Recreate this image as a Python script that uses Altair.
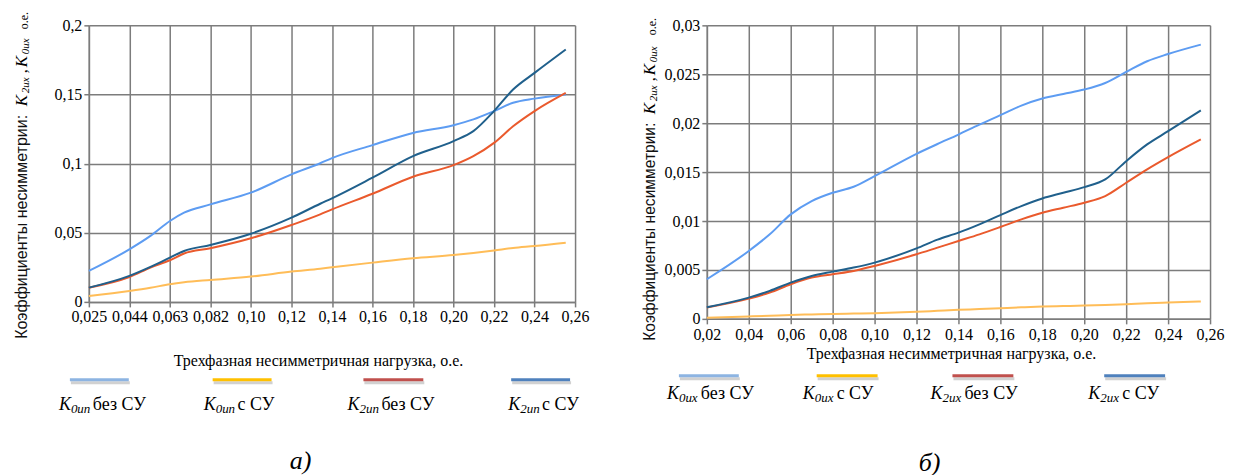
import json
import altair as alt
import pandas as pd

# ------------------------------------------------------------------ data
LEFT_TICKS = ["0,025", "0,044", "0,063", "0,082", "0,10", "0,12", "0,14",
              "0,16", "0,18", "0,20", "0,22", "0,24", "0,26"]
# position along the category axis (0 = "0,025", 12 = "0,26")
LEFT_POS = [0, 1, 1.52, 2, 2.35, 3, 4, 5, 5.71, 6, 7, 8, 9, 9.49, 10, 10.47, 11, 11.77]
LEFT_K0_NO = [0.0224, 0.038, 0.0477, 0.0585, 0.0645, 0.0705, 0.079, 0.0922, 0.1003,
              0.104, 0.1134, 0.1222, 0.1278, 0.132, 0.138, 0.144, 0.147, 0.150]
LEFT_K0_SU = [0.0043, 0.0079, 0.0102, 0.0128, 0.0142, 0.0159, 0.0183, 0.0219, 0.0240,
              0.0250, 0.0284, 0.0316, 0.0339, 0.0354, 0.0372, 0.0390, 0.0404, 0.0428]
LEFT_K2_NO = [0.0103, 0.018, 0.0248, 0.0301, 0.0350, 0.0388, 0.046, 0.0556, 0.0633,
              0.0669, 0.0782, 0.0905, 0.0989, 0.1054, 0.115, 0.127, 0.138, 0.1511]
LEFT_K2_SU = [0.0103, 0.0188, 0.0253, 0.032, 0.0368, 0.0412, 0.0493, 0.0609, 0.0710,
              0.0749, 0.0898, 0.1054, 0.1163, 0.1235, 0.138, 0.1536, 0.1656, 0.1825]
LEFT_Y_TICKS = [0, 0.05, 0.1, 0.15, 0.2]

RIGHT_X = [0.02, 0.04, 0.05, 0.06, 0.07, 0.08, 0.09, 0.10, 0.12, 0.13, 0.14, 0.15,
           0.16, 0.17, 0.18, 0.19, 0.20, 0.21, 0.22, 0.23, 0.24, 0.2556]
RIGHT_K0_NO = [0.00405, 0.00694, 0.00864, 0.01068, 0.01204, 0.01289, 0.0135, 0.01459,
               0.01687, 0.01787, 0.01884, 0.01986, 0.02082, 0.02180, 0.02252, 0.02299,
               0.02344, 0.02411, 0.02524, 0.02633, 0.02707, 0.02803]
RIGHT_K0_SU = [0.00012, 0.00025, 0.00032, 0.0004, 0.00045, 0.0005, 0.00054, 0.00058,
               0.00072, 0.00082, 0.00092, 0.001, 0.00109, 0.00118, 0.00126, 0.00131,
               0.00136, 0.00142, 0.0015, 0.0016, 0.00167, 0.00177]
RIGHT_K2_NO = [0.00116, 0.00207, 0.00269, 0.00354, 0.00422, 0.00456, 0.0049, 0.00541,
               0.0066, 0.00728, 0.00796, 0.00864, 0.00939, 0.01017, 0.01085, 0.01136,
               0.01187, 0.01255, 0.01391, 0.01528, 0.01653, 0.01834]
RIGHT_K2_SU = [0.00119, 0.00217, 0.00286, 0.0037, 0.00439, 0.00483, 0.00524, 0.00575,
               0.00721, 0.00810, 0.00881, 0.00966, 0.01061, 0.01153, 0.01231, 0.01289,
               0.01347, 0.01425, 0.01612, 0.01783, 0.01918, 0.0213]
RIGHT_X_TICKS = [0.02, 0.04, 0.06, 0.08, 0.10, 0.12, 0.14, 0.16, 0.18, 0.20, 0.22, 0.24, 0.26]
RIGHT_Y_TICKS = [0, 0.005, 0.01, 0.015, 0.02, 0.025, 0.03]

SERIES = ["K0 без СУ", "K0 с СУ", "K2 без СУ", "K2 с СУ"]
LEFT_SUBS = ["0un", "0un", "2un", "2un"]
RIGHT_SUBS = ["0ux", "0ux", "2ux", "2ux"]
LEGEND_REST = ["без СУ", "с СУ", "без СУ", "с СУ"]
X_TITLE = "Трехфазная несимметричная нагрузка, о.е."
Y_TITLE_MAIN = "Коэффициенты несимметрии:"

# ------------------------------------------------------------------ style
LINE_COLORS = ["#5d9cf2", "#ffbd58", "#ea5a2d", "#20608c"]
LEGEND_COLORS = ["#8db4e2", "#ffc000", "#c0504d", "#4f81bd"]
GRID = "#7c7c7c"
SERIF = "Liberation Serif, Times New Roman, DejaVu Serif, serif"
SANS = "Liberation Sans, Arial, sans-serif"
INK = "#000"

ONE = pd.DataFrame({"k": [0]})


def long_df(xs, cols):
    rows = []
    for name, vals in zip(SERIES, cols):
        for x, v in zip(xs, vals):
            rows.append({"x": x, "v": v, "s": name})
    return pd.DataFrame(rows)


def axis(values, label_expr, **kw):
    return alt.Axis(values=values, labelExpr=label_expr, grid=True, gridColor=GRID,
                    gridWidth=1.5, domainColor=GRID, domainWidth=1.5, tickColor=GRID,
                    tickWidth=1.5, tickSize=5, labelFont=SERIF, labelFontSize=16,
                    labelColor=INK, labelFlush=False, labelOverlap=False,
                    title=None, **kw)


def txt(text, x, y, size, font=SERIF, italic=False, angle=0, align="left",
        baseline="middle", color=INK):
    kw = dict(text=text, fontSize=size, font=font, align=align, baseline=baseline,
              color=color)
    if italic:
        kw["fontStyle"] = "italic"
    if angle:
        kw["angle"] = angle
    return alt.Chart(ONE).mark_text(**kw).encode(x=alt.value(x), y=alt.value(y))


def rule(x1, x2, y, color, width, opacity=1.0):
    return alt.Chart(ONE).mark_rule(color=color, strokeWidth=width,
                                    opacity=opacity).encode(
        x=alt.value(x1), x2=alt.value(x2), y=alt.value(y))


def y_title(xc, main_size, main_start, k2, s2, comma, k0, s0, oe):
    return [
        txt(Y_TITLE_MAIN, xc, main_start, main_size, font=SANS, angle=270, color="#111"),
        txt("K", xc, k2, 17, italic=True, angle=270),
        txt("2ux", xc + 4, s2, 11, italic=True, angle=270),
        txt(",", xc, comma, 16, angle=270),
        txt("K", xc, k0, 17, italic=True, angle=270),
        txt("0ux", xc + 4, s0, 11, italic=True, angle=270),
        txt("о.е.", xc + 2, oe, 12, angle=270),
    ]


def legend(line_y, spans, text_y, starts, subs):
    out = []
    for (a, b), st, col, sub, rest in zip(spans, starts, LEGEND_COLORS, subs, LEGEND_REST):
        out.append(rule(a + 1, b + 1, line_y + 3, "#bdbdbd", 3, 0.7))
        out.append(rule(a, b, line_y, col, 3))
        out.append(txt("K", st, text_y, 18, italic=True))
        out.append(txt(sub, st + 12, text_y + 4, 13, italic=True))
        out.append(txt(rest, st + 34, text_y, 18))
    return out


def lines(df, xenc, yenc):
    return alt.Chart(df).mark_line(interpolate="monotone", strokeWidth=2).encode(
        x=xenc, y=yenc,
        color=alt.Color("s:N", scale=alt.Scale(domain=SERIES, range=LINE_COLORS),
                        legend=None),
        detail="s:N")


# ------------------------------------------------------------------ left panel
LX0, LY0 = 88, 24
left_df = long_df(LEFT_POS, [LEFT_K0_NO, LEFT_K0_SU, LEFT_K2_NO, LEFT_K2_SU])
left_x = alt.X("x:Q", scale=alt.Scale(domain=[0, len(LEFT_TICKS) - 1], nice=False, zero=False),
               axis=axis(list(range(len(LEFT_TICKS))),
                         f"{json.dumps(LEFT_TICKS)}[datum.value]", labelPadding=2))
left_y = alt.Y("v:Q", scale=alt.Scale(domain=[0, 0.2], nice=False),
               axis=axis(LEFT_Y_TICKS, "replace(format(datum.value, '~g'), '.', ',')",
                         labelPadding=2))

left_layers = [lines(left_df, left_x, left_y)]
left_layers += y_title(21 - LX0, 16, 338 - LY0, 105 - LY0, 92 - LY0, 72 - LY0,
                       66 - LY0, 53 - LY0, 28 - LY0)
left_layers.append(txt(X_TITLE, 318 - LX0, 360 - LY0, 16, align="center"))
left_layers += legend(379 - LY0, [(a - LX0, b - LX0) for a, b in
                                  [(69, 128), (212, 271), (363, 423), (511, 570)]],
                      404 - LY0, [s - LX0 for s in [58, 203, 347, 508]], LEFT_SUBS)
left_layers.append(txt("а)", 300 - LX0, 460 - LY0, 26, italic=True, align="center"))
left_layers.append(rule(-LX0, -LX0 + 1, -LY0, "white", 0.5))
left = alt.layer(*left_layers).properties(width=487, height=277)

# ------------------------------------------------------------------ right panel
RX0, RY0 = 707, 24
right_df = long_df(RIGHT_X, [RIGHT_K0_NO, RIGHT_K0_SU, RIGHT_K2_NO, RIGHT_K2_SU])
right_x = alt.X("x:Q", scale=alt.Scale(domain=[0.02, 0.26], nice=False, zero=False),
                axis=axis(RIGHT_X_TICKS, "replace(format(datum.value, '.2f'), '.', ',')",
                          labelPadding=3))
right_y = alt.Y("v:Q", scale=alt.Scale(domain=[0, 0.03], nice=False),
                axis=axis(RIGHT_Y_TICKS, "replace(format(datum.value, '~g'), '.', ',')",
                          labelPadding=2))

right_layers = [lines(right_df, right_x, right_y)]
right_layers += y_title(650 - RX0, 15.6, 340 - RY0, 113 - RY0, 100 - RY0, 80 - RY0,
                        74 - RY0, 61 - RY0, 34 - RY0)
right_layers.append(txt(X_TITLE, 952 - RX0, 353 - RY0, 16, align="center"))
right_layers += legend(375 - RY0, [(a - RX0, b - RX0) for a, b in
                                   [(679, 739), (817, 878), (953, 1014), (1105, 1166)]],
                       393 - RY0, [s - RX0 for s in [667, 803, 931, 1089]], RIGHT_SUBS)
right_layers.append(txt("б)", 930 - RX0, 462 - RY0, 26, italic=True, align="center"))
right_layers.append(rule(1233 - RX0, 1234 - RX0, 475 - RY0, "white", 0.5))
right = alt.layer(*right_layers).properties(width=504, height=294)

chart = alt.hconcat(left, right, spacing=707 - 88 - 487, bounds="flush").properties(
    padding=0, background="white"
).configure_view(stroke=None)

chart.save("out.html", embed_options={"renderer": "svg", "actions": False})
